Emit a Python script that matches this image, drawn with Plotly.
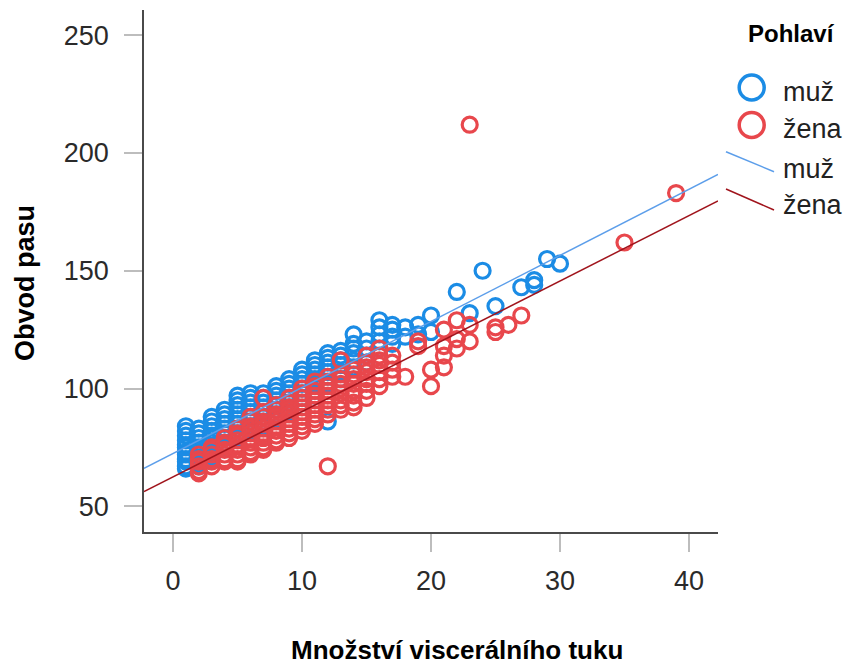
import plotly.graph_objects as go

# ---------------- data ----------------
# x values (visceral fat rating) and, for each, the waist values seen there
muz_x_levels = [1, 2, 3, 4, 5, 6, 7, 8, 9, 10, 11, 12, 13, 14, 15, 16, 17, 18, 19, 20,
                22, 23, 24, 25, 27, 28, 29, 30]
muz_y_groups = [
    [84, 82, 80, 78, 76, 75, 73, 72, 70, 69, 67, 66],
    [83, 81, 79, 77, 75, 74, 72, 70, 68, 67],
    [88, 86, 84, 82, 80, 79, 77, 75, 73, 71],
    [91, 89, 87, 85, 83, 81, 79, 77, 75],
    [97, 95, 93, 91, 89, 87, 85, 83, 81, 79],
    [98, 96, 94, 92, 90, 88, 86, 84, 82],
    [98, 96, 94, 92, 90, 88, 86, 84],
    [101, 99, 97, 95, 93, 91, 89, 87],
    [104, 102, 100, 98, 96, 94, 92, 90],
    [108, 106, 104, 102, 100, 98, 96, 94],
    [112, 110, 108, 106, 104, 102, 99, 97],
    [115, 113, 111, 109, 107, 105, 102, 86],
    [116, 114, 112, 110, 107, 104],
    [123, 119, 117, 115, 112, 109],
    [120, 117, 114, 111],
    [129, 126, 123, 120, 117],
    [127, 125, 122, 119],
    [126, 122],
    [127, 123],
    [131, 124],
    [141],
    [132],
    [150],
    [135],
    [143],
    [146, 144],
    [155],
    [153],
]

zena_x_levels = [2, 3, 4, 5, 6, 7, 8, 9, 10, 11, 12, 13, 14, 15, 16, 17, 18, 19, 20,
                 21, 22, 23, 25, 26, 27, 35, 39]
zena_y_groups = [
    [72, 70, 69, 67, 65, 64],
    [75, 74, 72, 70, 69, 67],
    [79, 77, 76, 74, 72, 70, 69],
    [83, 81, 80, 78, 76, 74, 72, 70, 69],
    [88, 86, 84, 83, 81, 79, 77, 75, 73, 72],
    [96, 90, 88, 86, 85, 83, 81, 79, 77, 75, 74],
    [93, 91, 89, 88, 86, 84, 82, 80, 78, 77],
    [96, 94, 92, 91, 89, 87, 85, 83, 81, 79],
    [100, 98, 96, 94, 92, 90, 88, 86, 84, 82],
    [103, 101, 99, 97, 95, 93, 91, 89, 87, 85],
    [105, 103, 101, 99, 97, 95, 93, 91, 89, 67],
    [112, 106, 104, 102, 100, 98, 95, 93, 91],
    [108, 106, 104, 102, 99, 97, 94, 92],
    [114, 111, 109, 107, 104, 102, 99, 96],
    [117, 114, 112, 110, 107, 104, 101],
    [114, 111, 108, 105],
    [105],
    [120, 118],
    [108, 101],
    [125, 118, 114, 109],
    [129, 121, 117],
    [212, 127, 120],
    [126, 124],
    [127],
    [131],
    [162],
    [183],
]

# fitted lines (intercept, slope)
fit_muz = (72.4, 2.804)
fit_zena = (62.5, 2.772)

x_ticks = [0, 10, 20, 30, 40]
y_ticks = [50, 100, 150, 200, 250]
x_range = [-2.25, 42.25]
y_range = [39.1, 260.7]

series_names = ["muž", "žena"]
legend_title = "Pohlaví"
x_title = "Množství viscerálního tuku"
y_title = "Obvod pasu"

# flatten the per-level groups into point lists
muz_x = [x for x, ys in zip(muz_x_levels, muz_y_groups) for _ in ys]
muz_y = [y for ys in muz_y_groups for y in ys]
zena_x = [x for x, ys in zip(zena_x_levels, zena_y_groups) for _ in ys]
zena_y = [y for ys in zena_y_groups for y in ys]

# ---------------- styling ----------------
BLUE = "#1B8CE5"
RED = "#E8474C"
BLUE_LINE = "#5C9EEA"
RED_LINE = "#A0141C"
FONT = "Liberation Sans, Arial, sans-serif"

fig = go.Figure()

fig.add_trace(go.Scatter(x=muz_x, y=muz_y, mode="markers", name=series_names[0],
                         marker=dict(symbol="circle-open", size=15, color=BLUE,
                                     line=dict(width=3.2, color=BLUE)),
                         showlegend=False, cliponaxis=False))
fig.add_trace(go.Scatter(x=zena_x, y=zena_y, mode="markers", name=series_names[1],
                         marker=dict(symbol="circle-open", size=15, color=RED,
                                     line=dict(width=3.2, color=RED)),
                         showlegend=False, cliponaxis=False))

for (a, b), col, nm in [(fit_muz, BLUE_LINE, series_names[0]),
                        (fit_zena, RED_LINE, series_names[1])]:
    fig.add_trace(go.Scatter(x=x_range, y=[a + b * x_range[0], a + b * x_range[1]],
                             mode="lines", name=nm, line=dict(color=col, width=1.5),
                             showlegend=False))

L, R, T, B = 144, 132, 10, 135
W, H = 850, 667
PW, PH = W - L - R, H - T - B


def px(xp):
    return (xp - L) / PW


def py(yp):
    return (H - B - yp) / PH


fig.update_layout(
    width=W, height=H,
    margin=dict(l=L, r=R, t=T, b=B, pad=0),
    paper_bgcolor="white", plot_bgcolor="white",
    showlegend=False,
    font=dict(family=FONT, size=27, color="#222222"),
    xaxis=dict(range=x_range, tickvals=x_ticks, showgrid=False, zeroline=False,
               showline=True, linecolor="#4a4a4a", linewidth=1.5,
               ticks="outside", ticklen=18, tickwidth=2, tickcolor="#bdbdbd",
               ticklabelstandoff=6,
               tickfont=dict(family=FONT, size=27, color="#2a2a2a")),
    yaxis=dict(range=y_range, tickvals=y_ticks, showgrid=False, zeroline=False,
               showline=True, linecolor="#4a4a4a", linewidth=1.5,
               ticks="outside", ticklen=18, tickwidth=2, tickcolor="#bdbdbd",
               ticklabelstandoff=10,
               tickfont=dict(family=FONT, size=27, color="#2a2a2a")),
)

# axis titles
fig.add_annotation(text=f"<b>{x_title}</b>", xref="paper", yref="paper",
                   x=px(457), y=py(650), xanchor="center", yanchor="middle",
                   showarrow=False, font=dict(family=FONT, size=26, color="#000000"))
fig.add_annotation(text=f"<b>{y_title}</b>", xref="paper", yref="paper",
                   x=px(25), y=py(283), xanchor="center", yanchor="middle",
                   textangle=-90, showarrow=False,
                   font=dict(family=FONT, size=27, color="#000000"))

# custom legend
fig.add_annotation(text=f"<b>{legend_title}</b>", xref="paper", yref="paper",
                   x=px(791), y=py(33), xanchor="center", yanchor="middle",
                   showarrow=False, font=dict(family=FONT, size=24, color="#000000"))

for cy, col in [(87.5, BLUE), (125, RED)]:
    fig.add_shape(type="circle", xref="paper", yref="paper",
                  xsizemode="pixel", ysizemode="pixel",
                  xanchor=px(751.7), yanchor=py(cy),
                  x0=-12.5, x1=12.5, y0=-12.5, y1=12.5,
                  line=dict(color=col, width=3.5), fillcolor="rgba(0,0,0,0)")

for (x0, y0, x1, y1), col in [((726, 151.7, 774, 171.7), BLUE_LINE),
                              ((726, 189, 774, 210), RED_LINE)]:
    fig.add_shape(type="line", xref="paper", yref="paper",
                  x0=px(x0), y0=py(y0), x1=px(x1), y1=py(y1),
                  line=dict(color=col, width=1.5))

for cy, txt in [(92, series_names[0]), (129, series_names[1]),
                (168.5, series_names[0]), (205, series_names[1])]:
    fig.add_annotation(text=txt, xref="paper", yref="paper",
                       x=px(781), y=py(cy), xanchor="left", yanchor="middle",
                       showarrow=False, font=dict(family=FONT, size=27, color="#222222"))

fig.write_html("out.html",
               config={"displayModeBar": False},
               post_script="document.body.style.margin='0';document.body.style.overflow='hidden';")
